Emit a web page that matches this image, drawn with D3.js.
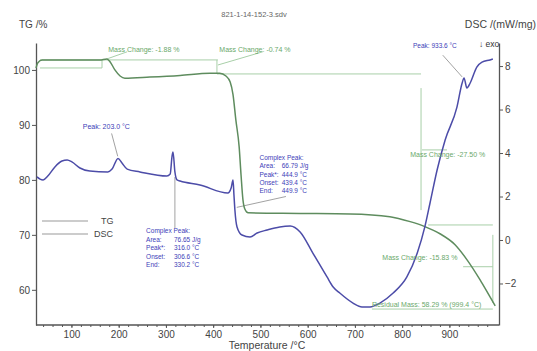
<!DOCTYPE html>
<html>
<head>
<meta charset="utf-8">
<script src="https://cdn.jsdelivr.net/npm/d3@7"></script>
<style>
  body { margin: 0; background: #fff; }
  svg { font-family: "Liberation Sans", Arial, sans-serif; }
</style>
</head>
<body>
<svg id="chart" width="537" height="351"></svg>
<script>
// temperature (°C) and TG (%)
const tgTemp = [25, 29, 38, 76, 160, 175, 182, 192, 203, 213, 266, 330, 393, 414, 427, 436, 442, 448, 455, 459, 463, 467, 474, 584, 690, 774, 817, 848, 880, 912, 937, 965, 986, 997];
const tgMass = [100.36, 101.3, 101.8, 101.8, 101.8, 102.0, 101.45, 100.0, 98.9, 98.5, 98.7, 99.0, 99.4, 99.4, 98.9, 97.8, 95.5, 90.9, 86.0, 80.9, 76.4, 74.7, 74.0, 73.9, 73.8, 73.3, 72.4, 71.5, 70.2, 68.2, 65.5, 61.8, 58.7, 57.1];

// temperature (°C) and DSC (mW/mg)
const dscTemp = [27, 33.5, 40, 50, 65, 80, 91, 101, 118, 139, 177, 186, 198.6, 207, 218, 245, 302, 309, 313, 315, 319, 323.5, 330, 372, 431, 438, 442, 444, 446, 450.5, 461, 478, 493, 514, 541, 563, 584, 611, 641, 654, 668, 696, 715, 732, 753, 781, 810, 832, 848, 859, 874, 891, 916, 927, 931, 937, 944, 958, 969, 986, 992];
const dscVal = [2.90, 2.80, 2.76, 2.94, 3.36, 3.63, 3.68, 3.59, 3.31, 3.17, 3.13, 3.26, 3.75, 3.54, 3.26, 3.13, 2.94, 3.03, 3.86, 4.05, 3.13, 2.76, 2.71, 2.53, 2.16, 2.39, 2.76, 2.07, 1.38, 0.60, 0.23, 0.14, 0.32, 0.46, 0.60, 0.64, 0.37, -0.60, -1.70, -2.16, -2.44, -2.90, -3.08, -3.08, -2.90, -2.44, -1.70, -0.60, 0.60, 1.70, 3.22, 4.60, 6.11, 7.22, 7.45, 6.99, 7.22, 7.95, 8.18, 8.28, 8.32];

const xTicks = [100, 200, 300, 400, 500, 600, 700, 800, 900];
const tgTicks = [60, 70, 80, 90, 100];
const dscTicks = [-2, 0, 2, 4, 6, 8];

const svg = d3.select('#chart');
const mLeft = 36, mRight = 499, mTop = 43, mBottom = 325;

const x = d3.scaleLinear().domain([25, 1005]).range([mLeft, mRight]);
const yTG = d3.scaleLinear().domain([53.6, 104.9]).range([mBottom, mTop]);
const yDSC = d3.scaleLinear().domain([-3.91, 9.06]).range([mBottom, mTop]);

const axisColor = '#555';
const tgColor = '#5e8c5e';
const dscColor = '#4c4ca8';
const noteGreen = '#6aa86a';
const noteLine = '#a8cfa8';
const noteBlue = '#4040b8';

// x axis
const gx = svg.append('g')
  .attr('transform', `translate(0,${mBottom})`)
  .call(d3.axisBottom(x).tickValues(xTicks).tickSize(3).tickPadding(3));
gx.append('g').call(d3.axisBottom(x).tickValues(d3.range(40, 1000, 20)).tickSize(2).tickFormat(''));
gx.selectAll('.domain').remove();
svg.append('line').attr('x1', mLeft).attr('x2', mRight).attr('y1', mBottom).attr('y2', mBottom)
  .attr('stroke', axisColor).attr('stroke-width', 1.3);

// left axis
const gl = svg.append('g')
  .attr('transform', `translate(${mLeft},0)`)
  .call(d3.axisLeft(yTG).tickValues(tgTicks).tickSizeInner(4).tickSizeOuter(0).tickPadding(2));
// right axis
const gr = svg.append('g')
  .attr('transform', `translate(${mRight},0)`)
  .call(d3.axisRight(yDSC).tickValues(dscTicks).tickSizeInner(4).tickSizeOuter(0).tickPadding(2));

[gx, gl, gr].forEach(g => {
  g.selectAll('.domain').attr('stroke', axisColor).attr('stroke-width', 1.3);
  g.selectAll('line').attr('stroke', axisColor);
  g.selectAll('text').attr('fill', '#444').style('font-size', '10px');
});

// titles
svg.append('text').attr('x', 19).attr('y', 28).text('TG /%')
  .attr('fill', '#444').style('font-size', '10px');
svg.append('text').attr('x', 536).attr('y', 28).attr('text-anchor', 'end').text('DSC /(mW/mg)')
  .attr('fill', '#444').style('font-size', '10.5px');
svg.append('text').attr('x', 267).attr('y', 349).attr('text-anchor', 'middle').text('Temperature /°C')
  .attr('fill', '#444').style('font-size', '10.5px');
svg.append('text').attr('x', 254).attr('y', 17).attr('text-anchor', 'middle').text('821-1-14-152-3.sdv')
  .attr('fill', '#666').style('font-size', '7.5px');
svg.append('text').attr('x', 479).attr('y', 47).text('↓ exo')
  .attr('fill', '#333').style('font-size', '8.5px');

// TG annotation lines (T, %)
const tgNotes = [
  [[33.5, 101.82], [410, 101.82]],
  [[33.5, 100.36], [164.7, 100.36]],
  [[164.7, 101.82], [164.7, 100.36]],
  [[408, 101.82], [408, 99.27]],
  [[408, 99.27], [840, 99.27]],
  [[840, 96.7], [840, 74.5]],
  [[842, 85.45], [895, 85.45]],
  [[855, 71.8], [992, 71.8]],
  [[992, 70], [992, 57.6]],
  [[929, 64.2], [992, 64.2]],
  [[736, 56.5], [992, 56.5]],
  [[175, 102.0], [218, 103.3]],
  [[410, 100.9], [505, 103.3]]
];
svg.append('g').selectAll('line').data(tgNotes).join('line')
  .attr('x1', d => x(d[0][0])).attr('y1', d => yTG(d[0][1]))
  .attr('x2', d => x(d[1][0])).attr('y2', d => yTG(d[1][1]))
  .attr('stroke', noteLine).attr('stroke-width', 1);

// DSC leader lines (T, mW/mg)
const dscNotes = [
  [[185, 4.9], [198, 3.85]],
  [[319, 2.90], [319, 0.55]],
  [[450, 1.5], [554, 2.0]],
  [[886, 8.5], [927, 7.5]]
];
svg.append('g').selectAll('line').data(dscNotes).join('line')
  .attr('x1', d => x(d[0][0])).attr('y1', d => yDSC(d[0][1]))
  .attr('x2', d => x(d[1][0])).attr('y2', d => yDSC(d[1][1]))
  .attr('stroke', '#8a8a8a').attr('stroke-width', 0.8);

// curves
const tgLine = d3.line().x((d, i) => x(tgTemp[i])).y(d => yTG(d)).curve(d3.curveMonotoneX);
const dscLine = d3.line().x((d, i) => x(dscTemp[i])).y(d => yDSC(d)).curve(d3.curveMonotoneX);

svg.append('path').datum(tgMass).attr('d', tgLine)
  .attr('fill', 'none').attr('stroke', tgColor).attr('stroke-width', 1.5);
svg.append('path').datum(dscVal).attr('d', dscLine)
  .attr('fill', 'none').attr('stroke', dscColor).attr('stroke-width', 1.5);

// labels
function label(px, py, str, color, size, anchor) {
  svg.append('text').attr('x', px).attr('y', py).text(str)
    .attr('fill', color).attr('text-anchor', anchor || 'start').style('font-size', size + 'px');
}
label(x(178), 52, 'Mass Change: -1.88 %', noteGreen, 7);
label(x(413), 52, 'Mass Change: -0.74 %', noteGreen, 7);
label(x(817), yTG(84.2), 'Mass Change: -27.50 %', noteGreen, 7);
label(x(758), yTG(65.4), 'Mass Change: -15.83 %', noteGreen, 7);
label(x(736), yTG(56.9), 'Residual Mass: 58.29 % (999.4 °C)', noteGreen, 7);

label(x(124), yDSC(5.1), 'Peak: 203.0 °C', noteBlue, 7);
label(x(823), 48, 'Peak: 933.6 °C', noteBlue, 6.5);

const cp1 = ['Complex Peak:', 'Area:', 'Peak*:', 'Onset:', 'End:'];
const cp1v = ['', '76.65 J/g', '316.0 °C', '306.6 °C', '330.2 °C'];
const cp2v = ['', '66.79 J/g', '444.9 °C', '439.4 °C', '449.9 °C'];
cp1.forEach((t, i) => {
  label(x(258), 233 + i * 8.5, t, noteBlue, 6.5);
  if (cp1v[i]) label(x(317), 233 + i * 8.5, cp1v[i], noteBlue, 6.5);
  label(x(498), 160 + i * 8.3, t, noteBlue, 6.5);
  if (cp2v[i]) label(x(545), 160 + i * 8.3, cp2v[i], noteBlue, 6.5);
});

// legend
const legend = [['TG', 221], ['DSC', 234]];
legend.forEach(([name, ly]) => {
  svg.append('line').attr('x1', 42).attr('x2', 88).attr('y1', ly).attr('y2', ly)
    .attr('stroke', '#999').attr('stroke-width', 1);
  label(name === 'TG' ? 101 : 94, ly + 3, name, '#444', 9);
});
</script>
</body>
</html>
